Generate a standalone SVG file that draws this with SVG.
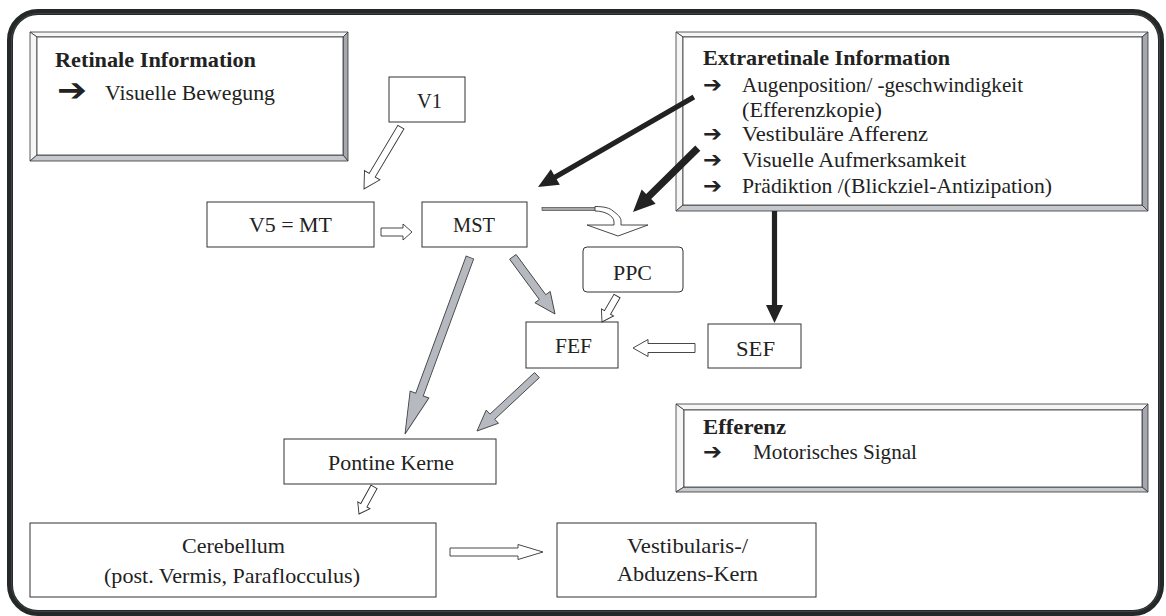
<svg xmlns="http://www.w3.org/2000/svg" width="1166" height="616" viewBox="0 0 1166 616">
<style>
.box{fill:#fff;stroke:#333;stroke-width:1}
.t{font-family:"Liberation Serif","Times New Roman",serif;font-size:21.5px;fill:#222}
.b{font-weight:bold}
.m{text-anchor:middle}
.ar{font-family:"DejaVu Sans",sans-serif;fill:#222}
.lt{fill:#f6f6f6;stroke:#333;stroke-width:0.8}
.dk{fill:#a4a8ae;stroke:#333;stroke-width:0.8}
.md{fill:#c6c9cd;stroke:#333;stroke-width:0.8}
.hol{fill:#fff;stroke:#333;stroke-width:0.9;stroke-linejoin:miter}
.gr{fill:#b6bac0;stroke:#444;stroke-width:0.9}
.bl{fill:#222;stroke:none}
</style>
<rect x="10" y="12" width="1151" height="601" rx="28" fill="none" stroke="#242828" stroke-width="6"/>
<rect x="11.5" y="13.5" width="1148" height="598" rx="27" fill="none" stroke="#555" stroke-width="0.6"/>

<g id="retinale">
<polygon class="lt" points="30,32 348,32 343,37 37,37"/>
<polygon class="lt" points="30,32 37,37 37,155 30,161"/>
<polygon class="dk" points="348,32 348,161 343,155 343,37"/>
<polygon class="md" points="30,161 348,161 343,155 37,155"/>
<rect x="37" y="37" width="306" height="118" fill="#fff" stroke="#333" stroke-width="0.8"/>
<text class="t b" x="55" y="67" textLength="201" lengthAdjust="spacingAndGlyphs">Retinale Information</text>
<text class="ar" x="57" y="101" font-size="32" textLength="30" lengthAdjust="spacingAndGlyphs">➔</text>
<text class="t" x="105" y="100" textLength="170" lengthAdjust="spacingAndGlyphs">Visuelle Bewegung</text>
</g>

<g id="extraretinale">
<polygon class="lt" points="676,32 1148,32 1142,37 683,37"/>
<polygon class="lt" points="676,32 683,37 683,205 676,211"/>
<polygon class="dk" points="1148,32 1148,211 1142,205 1142,37"/>
<polygon class="md" points="676,211 1148,211 1142,205 683,205"/>
<rect x="683" y="37" width="459" height="168" fill="#fff" stroke="#333" stroke-width="0.8"/>
<text class="t b" x="703" y="65" textLength="247" lengthAdjust="spacingAndGlyphs">Extraretinale Information</text>
<text class="ar" x="703" y="92" font-size="22" textLength="19" lengthAdjust="spacingAndGlyphs">➔</text>
<text class="t" x="742" y="92" textLength="281" lengthAdjust="spacingAndGlyphs">Augenposition/ -geschwindigkeit</text>
<text class="t" x="742" y="117" textLength="140" lengthAdjust="spacingAndGlyphs">(Efferenzkopie)</text>
<text class="ar" x="703" y="141" font-size="22" textLength="19" lengthAdjust="spacingAndGlyphs">➔</text>
<text class="t" x="742" y="141" textLength="186" lengthAdjust="spacingAndGlyphs">Vestibuläre Afferenz</text>
<text class="ar" x="703" y="167" font-size="22" textLength="19" lengthAdjust="spacingAndGlyphs">➔</text>
<text class="t" x="742" y="167" textLength="224" lengthAdjust="spacingAndGlyphs">Visuelle Aufmerksamkeit</text>
<text class="ar" x="703" y="193" font-size="22" textLength="19" lengthAdjust="spacingAndGlyphs">➔</text>
<text class="t" x="742" y="193" textLength="310" lengthAdjust="spacingAndGlyphs">Prädiktion /(Blickziel-Antizipation)</text>
</g>

<g id="efferenz">
<polygon class="lt" points="676,404 1148,404 1142,410 684,410"/>
<polygon class="lt" points="676,404 684,410 684,487 676,492"/>
<polygon class="dk" points="1148,404 1148,492 1142,487 1142,410"/>
<polygon class="md" points="676,492 1148,492 1142,487 684,487"/>
<rect x="684" y="410" width="458" height="77" fill="#fff" stroke="#333" stroke-width="0.8"/>
<text class="t b" x="703" y="434" textLength="83" lengthAdjust="spacingAndGlyphs">Efferenz</text>
<text class="ar" x="703" y="459" font-size="22" textLength="19" lengthAdjust="spacingAndGlyphs">➔</text>
<text class="t" x="753" y="459" textLength="164" lengthAdjust="spacingAndGlyphs">Motorisches Signal</text>
</g>

<g id="v1"><rect class="box" x="389" y="77" width="76" height="45"/><text class="t m" x="429.5" y="108" textLength="25" lengthAdjust="spacingAndGlyphs">V1</text></g>
<g id="v5mt"><rect class="box" x="207" y="202" width="167" height="45"/><text class="t m" x="290.5" y="232" textLength="83" lengthAdjust="spacingAndGlyphs">V5 = MT</text></g>
<g id="mst"><rect class="box" x="422" y="202" width="105" height="45"/><text class="t m" x="474" y="232" textLength="42" lengthAdjust="spacingAndGlyphs">MST</text></g>
<g id="ppc"><rect class="box" x="583" y="247" width="100" height="45" rx="4"/><text class="t m" x="632.5" y="280" textLength="39" lengthAdjust="spacingAndGlyphs">PPC</text></g>
<g id="fef"><rect class="box" x="526" y="322" width="92" height="46"/><text class="t m" x="573.5" y="353" textLength="37" lengthAdjust="spacingAndGlyphs">FEF</text></g>
<g id="sef"><rect class="box" x="708" y="324" width="93" height="44"/><text class="t m" x="755.5" y="356" textLength="39" lengthAdjust="spacingAndGlyphs">SEF</text></g>
<g id="pontine"><rect class="box" x="284" y="439" width="212" height="45"/><text class="t m" x="391" y="470" textLength="126" lengthAdjust="spacingAndGlyphs">Pontine Kerne</text></g>
<g id="cerebellum"><rect class="box" x="30" y="523" width="406" height="74"/><text class="t m" x="233.5" y="553" textLength="103" lengthAdjust="spacingAndGlyphs">Cerebellum</text><text class="t m" x="232" y="583" textLength="256" lengthAdjust="spacingAndGlyphs">(post. Vermis, Paraflocculus)</text></g>
<g id="vestibularis"><rect class="box" x="557" y="523" width="259" height="74"/><text class="t m" x="687.5" y="553" textLength="121" lengthAdjust="spacingAndGlyphs">Vestibularis-/</text><text class="t m" x="687.5" y="581" textLength="141" lengthAdjust="spacingAndGlyphs">Abduzens-Kern</text></g>

<g id="connectors">
<polygon class="hol" transform="translate(364,189) rotate(120.8)" points="-72,-3.5 -16,-3.5 -16,-9 0,0 -16,9 -16,3.5 -72,3.5"/>
<polygon class="hol" transform="translate(412,232) rotate(0)" points="-31,-4 -9,-4 -9,-8 0,0 -9,8 -9,4 -31,4"/>
<polygon class="hol" transform="translate(602,322) rotate(120)" points="-30,-3.5 -11,-3.5 -11,-7 0,0 -11,7 -11,3.5 -30,3.5"/>
<polygon class="hol" transform="translate(633,348) rotate(180)" points="-62,-4.5 -15,-4.5 -15,-8.5 0,0 -15,8.5 -15,4.5 -62,4.5"/>
<polygon class="hol" transform="translate(359,514) rotate(119)" points="-31,-3.5 -10,-3.5 -10,-7 0,0 -10,7 -10,3.5 -31,3.5"/>
<polygon class="hol" transform="translate(543,552) rotate(0)" points="-93,-4 -25,-4 -25,-7.5 0,0 -25,7.5 -25,4 -93,4"/>
<polygon class="gr" transform="translate(405,434) rotate(110.2)" points="-188,-4 -42,-4 -42,-10 0,0 -42,10 -42,4 -188,4"/>
<polygon class="gr" transform="translate(555,314) rotate(53.6)" points="-71,-4 -21,-4 -21,-9.5 0,0 -21,9.5 -21,4 -71,4"/>
<polygon class="gr" transform="translate(477,431) rotate(137)" points="-82,-3.5 -21,-3.5 -21,-9 0,0 -21,9 -21,3.5 -82,3.5"/>
<polygon class="bl" transform="translate(538,187) rotate(150)" points="-180,-2.6 -20,-2.6 -20,-9 0,0 -20,9 -20,2.6 -180,2.6"/>
<polygon class="bl" transform="translate(633,212) rotate(135.4)" points="-91,-3.6 -22,-3.6 -22,-10 0,0 -22,10 -22,3.6 -91,3.6"/>
<polygon class="bl" transform="translate(774.5,323) rotate(90)" points="-112,-2.6 -18,-2.6 -18,-8.5 0,0 -18,8.5 -18,2.6 -112,2.6"/>
<rect x="542" y="207.5" width="54" height="3" fill="#a8a8a8" stroke="#333" stroke-width="0.6"/>
<path class="hol" d="M595,206.5 C604,206.5 610,208 613,211 C617,214 621,217 621,221 L621,225 L648,225 L618,236 L587,225 L614,225 L614,222 C614,218 611,216 608,214 C604,212 600,211 595,211 Z"/>
</g>
</svg>
